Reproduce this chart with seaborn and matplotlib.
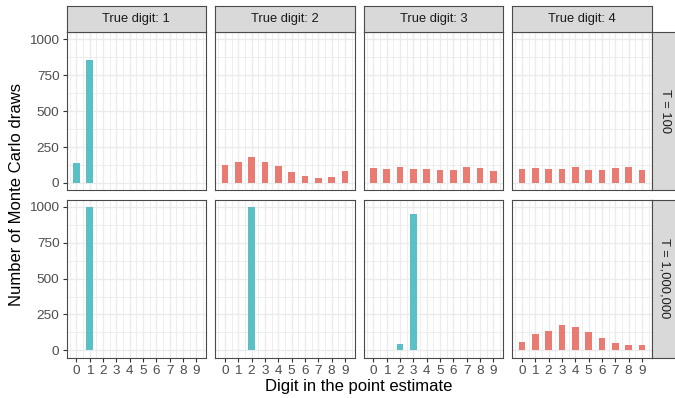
import matplotlib
matplotlib.use('Agg')
import matplotlib.pyplot as plt
import seaborn as sns
import pandas as pd

# Dados
digits = list(range(10))
true_digits = [1, 2, 3, 4]
horizons = ['T = 100', 'T = 1,000,000']

t100_d1 = [140, 860, 0, 0, 0, 0, 0, 0, 0, 0]
t100_d2 = [125, 143, 181, 143, 116, 79, 46, 32, 42, 81]
t100_d3 = [106, 95, 111, 100, 100, 88, 88, 111, 102, 81]
t100_d4 = [95, 102, 95, 100, 111, 88, 88, 106, 111, 88]

t1m_d1 = [0, 1000, 0, 0, 0, 0, 0, 0, 0, 0]
t1m_d2 = [0, 0, 1000, 0, 0, 0, 0, 0, 0, 0]
t1m_d3 = [0, 0, 42, 947, 5, 0, 0, 0, 0, 0]
t1m_d4 = [56, 111, 137, 179, 160, 130, 86, 51, 35, 35]

# painel "concentrado" (azul) ou não (salmão)
concentrated = {
    'T = 100': [True, False, False, False],
    'T = 1,000,000': [True, True, True, False],
}

series = {
    'T = 100': [t100_d1, t100_d2, t100_d3, t100_d4],
    'T = 1,000,000': [t1m_d1, t1m_d2, t1m_d3, t1m_d4],
}

rows = []
for h in horizons:
    for j, td in enumerate(true_digits):
        grp = 'yes' if concentrated[h][j] else 'no'
        for d, c in zip(digits, series[h][j]):
            rows.append({'T': h, 'true': td, 'digit': d, 'count': c, 'group': grp})
df = pd.DataFrame(rows)

palette = {'yes': '#5BC0C5', 'no': '#E97B72'}

sns.set_theme(style='white')
plt.rcParams['font.family'] = ['Liberation Sans', 'DejaVu Sans']

W, H = 675, 398
fig = plt.figure(figsize=(W / 100, H / 100), dpi=100)


def px_axes(x0, y0, w, h):
    return fig.add_axes([x0 / W, 1 - (y0 + h) / H, w / W, h / H])


panel_w, panel_h = 139.3, 157.8
col_x = [66.7 + i * 148.5 for i in range(4)]
row_y = [32.3, 199.7]
strip = 26.6
border = '#4A4A4A'

for r, h in enumerate(horizons):
    for c, td in enumerate(true_digits):
        ax = px_axes(col_x[c], row_y[r], panel_w, panel_h)
        sub = df[(df['T'] == h) & (df['true'] == td)]
        color = palette[sub['group'].iloc[0]]
        sns.barplot(data=sub, x='digit', y='count', native_scale=True, width=0.5,
                    color=color, saturation=1, errorbar=None, ax=ax, linewidth=0)
        ax.set_xlim(-0.725, 9.725)
        ax.set_ylim(-50, 1050)
        ax.set_xlabel('')
        ax.set_ylabel('')
        ax.set_xticks(digits)
        ax.set_xticks([d - 0.5 for d in digits] + [9.5], minor=True)
        ax.set_yticks([0, 250, 500, 750, 1000])
        ax.set_yticks([125, 375, 625, 875], minor=True)
        ax.set_axisbelow(True)
        ax.grid(which='major', color='#EBEBEB', lw=1.0)
        ax.grid(which='minor', color='#EBEBEB', lw=0.6)
        ax.tick_params(which='minor', length=0)
        ax.tick_params(which='major', length=3.2, width=0.8, color='#333333',
                       labelcolor='#4D4D4D', labelsize=9.7, pad=2,
                       left=(c == 0), labelleft=(c == 0),
                       bottom=(r == 1), labelbottom=(r == 1))
        for s in ax.spines.values():
            s.set_visible(True)
            s.set_color(border)
            s.set_linewidth(0.8)

        # faixa superior
        if r == 0:
            sa = px_axes(col_x[c], row_y[0] - strip, panel_w, strip)
            sa.set_facecolor('#D9D9D9')
            sa.set_xticks([])
            sa.set_yticks([])
            for s in sa.spines.values():
                s.set_color(border)
                s.set_linewidth(0.8)
            sa.text(0.5, 0.5, f'True digit: {td}', ha='center', va='center',
                    fontsize=9.3, color='#1A1A1A', transform=sa.transAxes)

    # faixa lateral
    ra = px_axes(col_x[3] + panel_w, row_y[r], strip, panel_h)
    ra.set_facecolor('#D9D9D9')
    ra.set_xticks([])
    ra.set_yticks([])
    for s in ra.spines.values():
        s.set_color(border)
        s.set_linewidth(0.8)
    ra.text(0.5, 0.5, h, ha='center', va='center', rotation=-90,
            fontsize=9.3, color='#1A1A1A', transform=ra.transAxes)

fig.text(17 / W, 1 - 195 / H, 'Number of Monte Carlo draws', rotation=90,
         ha='center', va='center', fontsize=12, color='black')
fig.text(359 / W, 1 - 387 / H, 'Digit in the point estimate',
         ha='center', va='center', fontsize=12, color='black')

fig.savefig('out.png', dpi=100)
